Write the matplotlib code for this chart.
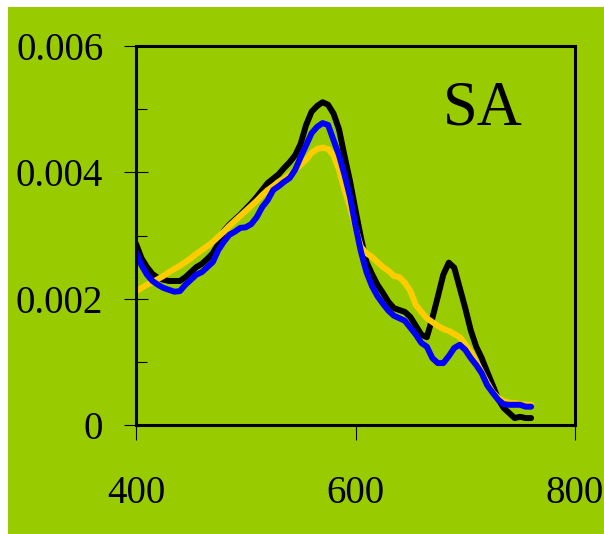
import numpy as np
import matplotlib
matplotlib.use("Agg")
import matplotlib.pyplot as plt
from matplotlib.patches import Rectangle
from matplotlib.ticker import MultipleLocator, FixedLocator

# wavelength (nm) and absorbance of the three spectra
wavelength = np.arange(400, 765, 5)

black_abs = [2.87, 2.64, 2.50, 2.39, 2.33, 2.30, 2.28, 2.28, 2.28, 2.34,
             2.42, 2.50, 2.55, 2.63, 2.72, 2.87, 3.07, 3.17, 3.25, 3.33,
             3.42, 3.51, 3.61, 3.72, 3.83, 3.90, 3.97, 4.07, 4.16, 4.27,
             4.45, 4.75, 4.96, 5.05, 5.11, 5.07, 4.93, 4.68, 4.26, 3.86,
             3.40, 2.96, 2.58, 2.39, 2.22, 2.09, 1.95, 1.85, 1.82, 1.79,
             1.71, 1.57, 1.43, 1.39, 1.69, 2.03, 2.38, 2.57, 2.49, 2.17,
             1.85, 1.50, 1.24, 1.06, 0.84, 0.63, 0.41, 0.27, 0.19, 0.11,
             0.13, 0.11, 0.11]

yellow_abs = [2.12, 2.17, 2.22, 2.26, 2.31, 2.36, 2.42, 2.47, 2.52, 2.58,
              2.64, 2.71, 2.77, 2.83, 2.90, 2.98, 3.06, 3.15, 3.23, 3.31,
              3.39, 3.47, 3.55, 3.64, 3.72, 3.78, 3.85, 3.89, 3.96, 4.04,
              4.12, 4.20, 4.31, 4.37, 4.39, 4.37, 4.27, 4.04, 3.72, 3.45,
              3.12, 2.82, 2.72, 2.66, 2.58, 2.50, 2.44, 2.36, 2.34, 2.25,
              2.12, 1.90, 1.79, 1.69, 1.63, 1.57, 1.52, 1.49, 1.44, 1.39,
              1.28, 1.16, 1.00, 0.84, 0.67, 0.52, 0.43, 0.38, 0.35, 0.35,
              0.33, 0.32, 0.32]

blue_abs = [2.74, 2.53, 2.38, 2.28, 2.22, 2.17, 2.14, 2.11, 2.12, 2.22,
            2.30, 2.38, 2.42, 2.50, 2.58, 2.77, 2.90, 3.01, 3.06, 3.12,
            3.13, 3.18, 3.29, 3.45, 3.56, 3.72, 3.78, 3.85, 3.91, 4.04,
            4.24, 4.43, 4.62, 4.72, 4.78, 4.75, 4.51, 4.27, 3.96, 3.61,
            3.15, 2.74, 2.42, 2.20, 2.04, 1.92, 1.81, 1.73, 1.69, 1.65,
            1.54, 1.43, 1.30, 1.24, 1.06, 0.98, 0.98, 1.09, 1.22, 1.27,
            1.19, 1.06, 0.95, 0.82, 0.63, 0.51, 0.40, 0.33, 0.32, 0.32,
            0.32, 0.29, 0.29]

series = [(black_abs, "#000000"), (yellow_abs, "#FFCC00"), (blue_abs, "#0000FF")]

green = "#99CC00"
serif = ["Liberation Serif", "DejaVu Serif"]

fig = plt.figure(figsize=(6.04, 5.34), dpi=100)
fig.patch.set_facecolor("white")
fig.patches.append(Rectangle((8 / 604, 0), 1, 527 / 534, transform=fig.transFigure,
                             facecolor=green, edgecolor="none", zorder=-1))

ax = fig.add_axes([136 / 604, 109 / 534, 439 / 604, 379 / 534])
ax.set_facecolor("none")

for values, color in series:
    ax.plot(wavelength, np.array(values) * 1e-3, color=color, lw=4.3,
            solid_capstyle="round", solid_joinstyle="round")

ax.set_xlim(400, 800)
ax.set_ylim(0, 0.006)
ax.xaxis.set_major_locator(FixedLocator([400, 600, 800]))
ax.yaxis.set_minor_locator(MultipleLocator(0.001))
ax.set_yticks([0, 0.002, 0.004, 0.006])
ax.set_yticklabels(["0", "0.002", "0.004", "0.006"])

for side in ax.spines.values():
    side.set_linewidth(2.2)

ax.tick_params(axis="y", which="major", direction="inout", length=17, width=0.8,
               pad=15, labelsize=28)
ax.tick_params(axis="y", which="minor", direction="in", length=8, width=0.8)
ax.tick_params(axis="x", which="major", direction="out", length=11, width=0.8,
               pad=25, labelsize=28)
for lbl in ax.get_xticklabels() + ax.get_yticklabels():
    lbl.set_family(serif)

ax.text(0.699, 0.792, "SA", transform=ax.transAxes, fontsize=45,
        family=serif, ha="left", va="baseline")

fig.savefig("out.png", dpi=100)
